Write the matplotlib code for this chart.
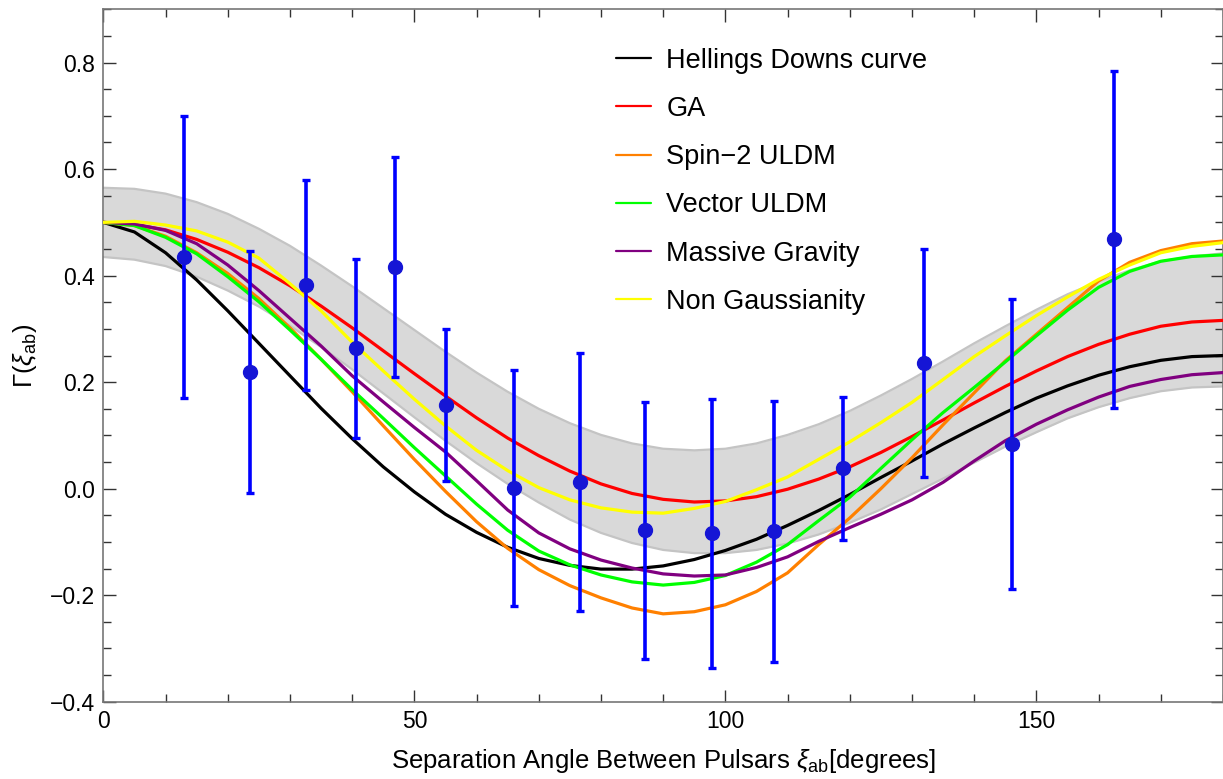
import matplotlib
matplotlib.use('Agg')
import matplotlib.pyplot as plt
from matplotlib.ticker import MultipleLocator

plt.rcParams['font.family'] = ['Liberation Sans', 'DejaVu Sans']
plt.rcParams['mathtext.fontset'] = 'custom'
plt.rcParams['mathtext.rm'] = 'Liberation Sans'
plt.rcParams['mathtext.it'] = 'Liberation Sans:italic'
plt.rcParams['axes.unicode_minus'] = True

# ---- data ----
angle = [0, 5, 10, 15, 20, 25, 30, 35, 40, 45, 50, 55, 60, 65, 70, 75, 80, 85, 90,
         95, 100, 105, 110, 115, 120, 125, 130, 135, 140, 145, 150, 155, 160, 165, 170, 175, 180]

hellings_downs = [0.500, 0.482, 0.443, 0.392, 0.334, 0.273, 0.212, 0.151, 0.094, 0.041, -0.006, -0.048,
                  -0.082, -0.110, -0.131, -0.144, -0.151, -0.151, -0.145, -0.133, -0.116, -0.095, -0.069,
                  -0.041, -0.011, 0.021, 0.052, 0.084, 0.114, 0.143, 0.170, 0.193, 0.213, 0.229, 0.241,
                  0.248, 0.250]
ga = [0.500, 0.496, 0.486, 0.468, 0.444, 0.415, 0.381, 0.343, 0.302, 0.259, 0.216, 0.174, 0.133, 0.095,
      0.062, 0.033, 0.009, -0.009, -0.020, -0.025, -0.023, -0.015, -0.001, 0.018, 0.041, 0.068, 0.098,
      0.129, 0.161, 0.192, 0.221, 0.248, 0.271, 0.290, 0.305, 0.313, 0.316]
spin2_uldm = [0.500, 0.494, 0.474, 0.443, 0.404, 0.357, 0.302, 0.243, 0.182, 0.118, 0.055, -0.005,
              -0.062, -0.112, -0.152, -0.182, -0.205, -0.224, -0.235, -0.231, -0.218, -0.193, -0.158,
              -0.105, -0.055, 0.000, 0.058, 0.120, 0.180, 0.240, 0.290, 0.340, 0.390, 0.425, 0.447,
              0.460, 0.465]
vector_uldm = [0.500, 0.494, 0.472, 0.441, 0.398, 0.351, 0.298, 0.243, 0.186, 0.132, 0.077, 0.024,
               -0.029, -0.078, -0.117, -0.143, -0.162, -0.175, -0.181, -0.176, -0.163, -0.138, -0.105,
               -0.060, -0.016, 0.038, 0.092, 0.143, 0.190, 0.238, 0.287, 0.335, 0.378, 0.408, 0.427,
               0.436, 0.439]
massive_gravity = [0.500, 0.497, 0.485, 0.460, 0.420, 0.372, 0.320, 0.268, 0.212, 0.163, 0.115, 0.069,
                   0.015, -0.040, -0.083, -0.113, -0.134, -0.149, -0.160, -0.164, -0.162, -0.148, -0.128,
                   -0.099, -0.073, -0.048, -0.021, 0.012, 0.052, 0.090, 0.121, 0.148, 0.172, 0.192,
                   0.205, 0.214, 0.218]
non_gaussianity = [0.500, 0.502, 0.495, 0.484, 0.463, 0.433, 0.385, 0.334, 0.275, 0.221, 0.168, 0.118,
                   0.072, 0.034, 0.002, -0.021, -0.036, -0.044, -0.046, -0.037, -0.024, -0.002, 0.022,
                   0.055, 0.088, 0.124, 0.162, 0.205, 0.248, 0.287, 0.325, 0.360, 0.393, 0.420, 0.443,
                   0.455, 0.462]
band_upper = [0.565, 0.563, 0.554, 0.538, 0.516, 0.488, 0.456, 0.419, 0.380, 0.339, 0.298, 0.257,
              0.218, 0.182, 0.150, 0.123, 0.101, 0.085, 0.075, 0.072, 0.075, 0.085, 0.101, 0.121,
              0.146, 0.175, 0.206, 0.239, 0.273, 0.305, 0.336, 0.365, 0.389, 0.410, 0.427, 0.436, 0.442]
band_lower = [0.435, 0.430, 0.418, 0.398, 0.372, 0.342, 0.306, 0.266, 0.224, 0.179, 0.134, 0.090,
              0.048, 0.009, -0.026, -0.058, -0.083, -0.102, -0.115, -0.121, -0.121, -0.115, -0.103,
              -0.086, -0.064, -0.039, -0.010, 0.019, 0.049, 0.079, 0.106, 0.132, 0.153, 0.170, 0.183,
              0.190, 0.192]

bin_angle = [13.0, 23.6, 32.6, 40.6, 46.9, 55.1, 66.0, 76.6, 87.1, 97.9, 107.8, 118.9, 131.9, 146.1, 162.5]
bin_corr = [0.435, 0.219, 0.382, 0.264, 0.416, 0.157, 0.001, 0.012, -0.078, -0.084, -0.080, 0.038,
            0.236, 0.084, 0.468]
bin_err = [0.265, 0.228, 0.197, 0.168, 0.207, 0.143, 0.222, 0.242, 0.241, 0.252, 0.245, 0.135,
           0.214, 0.272, 0.316]

series_labels = ['Hellings Downs curve', 'GA', 'Spin\u22122 ULDM', 'Vector ULDM',
                 'Massive Gravity', 'Non Gaussianity']
series_colors = ['#000000', '#ff0000', '#ff8000', '#00ff00', '#800080', '#ffff00']

xtick_vals = [0, 50, 100, 150]
xtick_labels = ['0', '50', '100', '150']
ytick_vals = [-0.4, -0.2, 0.0, 0.2, 0.4, 0.6, 0.8]
ytick_labels = ['\u22120.4', '\u22120.2', '0.0', '0.2', '0.4', '0.6', '0.8']

# ---- figure ----
fig = plt.figure(figsize=(12.23, 7.79), dpi=100)
ax = fig.add_axes([0.0845, 0.0992, 0.9155, 0.8888])

ax.fill_between(angle, band_lower, band_upper, color='#d9d9d9', lw=0, zorder=1)
ax.plot(angle, band_upper, color='#c4c4c4', lw=1.6, zorder=1.5)
ax.plot(angle, band_lower, color='#c4c4c4', lw=1.6, zorder=1.5)

series = [hellings_downs, ga, spin2_uldm, vector_uldm, massive_gravity, non_gaussianity]
for vals, lab, col in zip(series, series_labels, series_colors):
    ax.plot(angle, vals, color=col, lw=2.3, label=lab, zorder=3,
            solid_capstyle='round', solid_joinstyle='round')

ax.errorbar(bin_angle, bin_corr, yerr=bin_err, fmt='o', color='#1515d5', ecolor='#0000ff',
            elinewidth=2.6, capsize=3.2, capthick=2.4, markersize=10, zorder=5)

ax.set_xlim(0, 180)
ax.set_ylim(-0.4, 0.9)
ax.set_xticks(xtick_vals)
ax.set_xticklabels(xtick_labels)
ax.set_yticks(ytick_vals)
ax.set_yticklabels(ytick_labels)
ax.xaxis.set_minor_locator(MultipleLocator(10))
ax.yaxis.set_minor_locator(MultipleLocator(0.05))
ax.tick_params(which='both', direction='in', top=True, right=True, color='#333333',
               labelsize=16.5, width=1.0, pad=6)
ax.tick_params(which='major', length=9)
ax.tick_params(which='minor', length=6)
for s in ax.spines.values():
    s.set_color('#777777')
    s.set_linewidth(1.2)

ax.set_xlabel(r'Separation Angle Between Pulsars $\xi_{\mathrm{ab}}$[degrees]', fontsize=18.5, labelpad=10)
ax.set_ylabel(r'$\Gamma(\xi_{\mathrm{ab}})$', fontsize=18.5, labelpad=8)

leg = ax.legend(loc='upper left', bbox_to_anchor=(0.441, 0.972), frameon=False, fontsize=19.5,
                handlelength=1.3, handletextpad=0.55, labelspacing=0.82, borderpad=0.2)
for h in leg.get_lines():
    h.set_linewidth(1.6)

fig.savefig('out.png', dpi=100)
